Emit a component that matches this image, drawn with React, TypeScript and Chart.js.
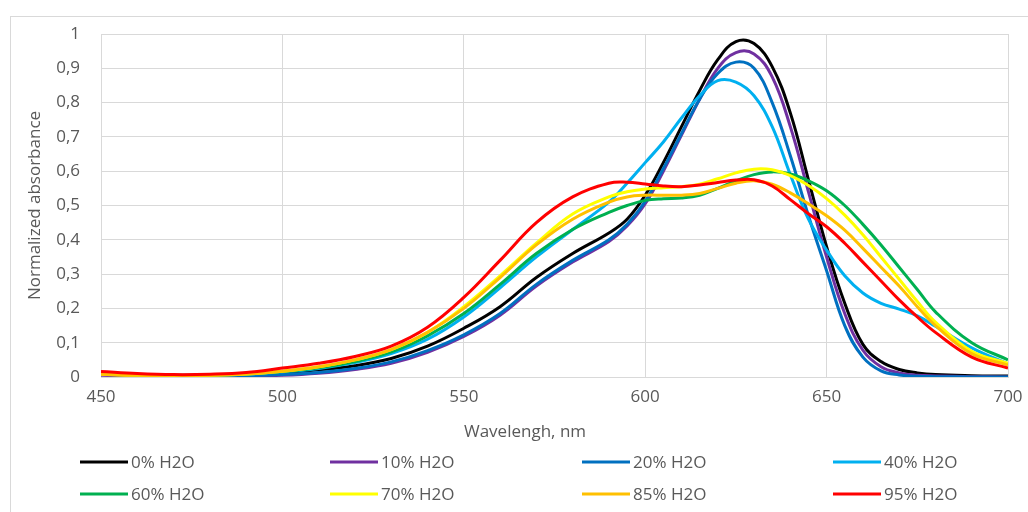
import React, { useEffect, useRef } from "react";
import { Chart, registerables } from "chart.js";

Chart.register(...registerables);

// Wavelength grid (nm)
const wavelengths = [
  450, 460, 470, 480, 490, 500, 510, 520, 530, 540, 550, 560, 570, 580, 590,
  595, 600, 605, 610, 615, 620, 625, 630, 635, 640, 645, 650, 655, 660, 665, 670, 675, 680,
  690, 700,
];

const seriesLabels = ["0% H2O", "10% H2O", "20% H2O", "40% H2O", "60% H2O", "70% H2O", "85% H2O", "95% H2O"];
const seriesColors = ["#000000", "#7030A0", "#0070C0", "#00B0F0", "#00B050", "#FFFF00", "#FFC000", "#FF0000"];

const h2o0 = [
  0.012, 0.007, 0.005, 0.006, 0.008, 0.013, 0.021, 0.033, 0.054, 0.09, 0.142, 0.205, 0.29, 0.36, 0.42,
  0.46, 0.53, 0.625, 0.73, 0.835, 0.925, 0.978, 0.972, 0.905, 0.77, 0.575, 0.38, 0.215, 0.095, 0.045, 0.022, 0.012, 0.007,
  0.004, 0.003,
];
const h2o10 = [
  0.005, 0.003, 0.002, 0.002, 0.003, 0.005, 0.011, 0.022, 0.04, 0.072, 0.118, 0.18, 0.265, 0.335, 0.395,
  0.44, 0.505, 0.6, 0.705, 0.81, 0.9, 0.946, 0.942, 0.875, 0.73, 0.54, 0.35, 0.185, 0.078, 0.03, 0.012, 0.005, 0.003,
  0.001, 0.0,
];
const h2o20 = [
  0.008, 0.005, 0.003, 0.003, 0.004, 0.007, 0.013, 0.025, 0.044, 0.077, 0.123, 0.185, 0.27, 0.34, 0.4,
  0.445, 0.512, 0.608, 0.71, 0.81, 0.885, 0.918, 0.9, 0.8, 0.645, 0.47, 0.31, 0.15, 0.058, 0.018, 0.006, 0.002, 0.001,
  0.0, 0.0,
];
const h2o40 = [
  0.01, 0.006, 0.004, 0.005, 0.008, 0.015, 0.025, 0.042, 0.068, 0.11, 0.175, 0.26, 0.35, 0.43, 0.51,
  0.565, 0.625, 0.685, 0.755, 0.82, 0.864, 0.86, 0.82, 0.73, 0.59, 0.46, 0.37, 0.295, 0.245, 0.215, 0.198, 0.178, 0.148,
  0.085, 0.038,
];
const h2o60 = [
  0.01, 0.006, 0.004, 0.005, 0.009, 0.016, 0.027, 0.045, 0.073, 0.12, 0.185, 0.27, 0.36, 0.43, 0.48,
  0.5, 0.515, 0.52, 0.522, 0.53, 0.55, 0.572, 0.59, 0.598, 0.592, 0.572, 0.543, 0.5, 0.445, 0.385, 0.32, 0.255, 0.19,
  0.1, 0.05,
];
const h2o70 = [
  0.008, 0.005, 0.004, 0.005, 0.009, 0.017, 0.03, 0.05, 0.08, 0.13, 0.205, 0.295, 0.39, 0.475, 0.525,
  0.54, 0.548, 0.552, 0.555, 0.562, 0.578, 0.595, 0.606, 0.604, 0.587, 0.558, 0.52, 0.472, 0.415, 0.35, 0.285, 0.22, 0.16,
  0.075, 0.04,
];
const h2o85 = [
  0.008, 0.005, 0.004, 0.005, 0.009, 0.017, 0.03, 0.05, 0.08, 0.13, 0.2, 0.29, 0.385, 0.46, 0.51,
  0.525, 0.53, 0.53, 0.53, 0.535, 0.55, 0.565, 0.572, 0.562, 0.537, 0.505, 0.47, 0.428, 0.375, 0.32, 0.265, 0.205, 0.15,
  0.068, 0.035,
];
const h2o95 = [
  0.016, 0.01, 0.007, 0.008, 0.013, 0.026, 0.04, 0.06, 0.09, 0.145, 0.232, 0.34, 0.45, 0.525, 0.565,
  0.568, 0.563, 0.557, 0.555, 0.56, 0.567, 0.574, 0.575, 0.557, 0.517, 0.476, 0.438, 0.39, 0.335, 0.28, 0.225, 0.175, 0.13,
  0.058, 0.026,
];

const xTickValues = [450, 500, 550, 600, 650, 700];
const xAxisTitle = "Wavelengh, nm";
const yAxisTitle = "Normalized absorbance";

const FONT_FAMILY = '"Open Sans", sans-serif';
const TEXT_COLOR = "#595959";
const GRID_COLOR = "#d9d9d9";

export default function App() {
  const canvasRef = useRef<HTMLCanvasElement | null>(null);

  useEffect(() => {
    if (!canvasRef.current) return;
    const allSeries = [h2o0, h2o10, h2o20, h2o40, h2o60, h2o70, h2o85, h2o95];
    const datasets = allSeries.map((vals, i) => ({
      label: seriesLabels[i],
      data: wavelengths.map((x, j) => ({ x, y: vals[j] })),
      borderColor: seriesColors[i],
      backgroundColor: seriesColors[i],
      borderWidth: 3,
      pointRadius: 0,
      pointHoverRadius: 0,
      tension: 0.4,
      fill: false,
      order: allSeries.length - i,
    }));

    const legendColumns = [69, 319, 571, 822];
    const legendRows = [445, 477];

    const gridLegend = {
      id: "gridLegend",
      afterDraw(chart: any) {
        const ctx = chart.ctx as CanvasRenderingContext2D;
        ctx.save();
        ctx.font = `17px ${FONT_FAMILY}`;
        ctx.fillStyle = TEXT_COLOR;
        ctx.textBaseline = "middle";
        // x-axis title, centred on the whole chart frame (as in the spreadsheet original)
        ctx.textAlign = "center";
        ctx.fillText(xAxisTitle, 514, 415);
        seriesLabels.forEach((label, i) => {
          const x0 = legendColumns[i % 4];
          const y = legendRows[Math.floor(i / 4)];
          ctx.strokeStyle = seriesColors[i];
          ctx.lineWidth = 3;
          ctx.beginPath();
          ctx.moveTo(x0, y);
          ctx.lineTo(x0 + 48, y);
          ctx.stroke();
          ctx.textAlign = "left";
          ctx.fillText(label, x0 + 51, y + 1);
        });
        ctx.restore();
      },
    };

    const chart = new Chart(canvasRef.current, {
      type: "line",
      data: { datasets: datasets as any },
      options: {
        responsive: true,
        maintainAspectRatio: false,
        animation: false,
        events: [],
        layout: { padding: { left: 0, right: 20, top: 17, bottom: 64 } },
        plugins: {
          legend: { display: false },
          tooltip: { enabled: false },
        },
        scales: {
          x: {
            type: "linear",
            min: 450,
            max: 700,
            afterBuildTicks: (scale: any) => {
              scale.ticks = xTickValues.map((v) => ({ value: v }));
            },
            afterFit: (scale: any) => {
              scale.height = 70;
              scale.paddingLeft = 0;
              scale.paddingRight = 0;
            },
            ticks: {
              font: { family: FONT_FAMILY, size: 17 },
              color: TEXT_COLOR,
              padding: 10,
              maxRotation: 0,
            },
            grid: { color: GRID_COLOR, drawTicks: false, lineWidth: 1 },
            border: { color: GRID_COLOR },
            title: { display: false },
          },
          y: {
            type: "linear",
            min: 0,
            max: 1,
            afterFit: (scale: any) => {
              scale.width = 90;
              scale.paddingTop = 0;
              scale.paddingBottom = 0;
            },
            ticks: {
              stepSize: 0.1,
              font: { family: FONT_FAMILY, size: 17 },
              color: TEXT_COLOR,
              padding: 21,
              callback: (v: any) => String(Math.round(Number(v) * 10) / 10).replace(".", ","),
            },
            grid: { color: GRID_COLOR, drawTicks: false, lineWidth: 1 },
            border: { color: GRID_COLOR },
            title: {
              display: true,
              text: yAxisTitle,
              font: { family: FONT_FAMILY, size: 17 },
              color: TEXT_COLOR,
              padding: { top: 14, bottom: 0 },
            },
          },
        },
      },
      plugins: [gridLegend],
    });

    return () => chart.destroy();
  }, []);

  return (
    <div
      style={{
        position: "absolute",
        left: 10,
        top: 16,
        width: 1040,
        height: 520,
        border: `1px solid ${GRID_COLOR}`,
        background: "#ffffff",
      }}
    >
      <div style={{ position: "relative", width: 1017, height: 494 }}>
        <canvas ref={canvasRef} />
      </div>
    </div>
  );
}
